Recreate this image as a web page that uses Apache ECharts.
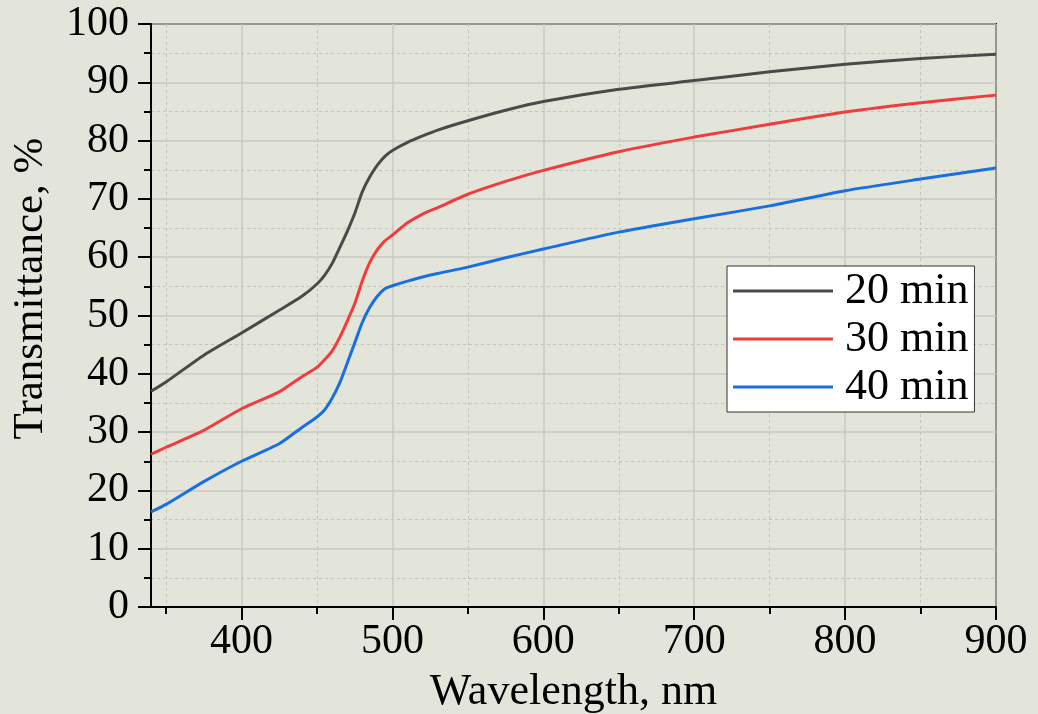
<!DOCTYPE html>
<html>
<head>
<meta charset="utf-8">
<script src="https://cdn.jsdelivr.net/npm/echarts@6/dist/echarts.min.js"></script>
<style>
  html, body { margin: 0; padding: 0; background: #e4e5da; }
  #chart { width: 1038px; height: 714px; }
</style>
</head>
<body>
<div id="chart"></div>
<script>
const wavelength = [340, 350, 375, 400, 425, 440, 450, 455, 460, 465, 470, 475, 480, 485, 490, 495, 500, 510, 520, 530, 550, 575, 600, 650, 700, 750, 800, 850, 900];
const t20 = [37.0, 38.6, 43.2, 47.0, 50.9, 53.3, 55.4, 56.9, 58.9, 61.6, 64.4, 67.5, 71.2, 73.8, 75.8, 77.3, 78.3, 79.7, 80.8, 81.8, 83.4, 85.2, 86.7, 88.8, 90.3, 91.8, 93.1, 94.1, 94.8];
const t30 = [26.2, 27.4, 30.3, 34.0, 36.9, 39.5, 41.1, 42.4, 43.9, 46.2, 49.0, 52.0, 55.9, 59.1, 61.3, 62.8, 63.8, 65.9, 67.4, 68.5, 70.8, 73.0, 74.9, 78.1, 80.6, 82.8, 84.9, 86.5, 87.8];
const t40 = [16.3, 17.6, 21.5, 25.0, 28.0, 30.8, 32.6, 33.8, 35.8, 38.4, 41.8, 45.3, 48.8, 51.4, 53.3, 54.6, 55.1, 55.9, 56.6, 57.2, 58.3, 59.9, 61.4, 64.3, 66.6, 68.8, 71.4, 73.4, 75.3];

const seriesNames = ['20 min', '30 min', '40 min'];
const seriesColors = ['#4a4a4a', '#f03c3c', '#1a6fe0'];

const xMajorTicks = [400, 500, 600, 700, 800, 900];
const xMinorTicks = [350, 450, 550, 650, 750, 850];

const font = 'Liberation Serif';

const chart = echarts.init(document.getElementById('chart'));

const pairs = (ys) => wavelength.map((w, i) => [w, ys[i]]);

const option = {
  backgroundColor: '#e4e5da',
  animation: false,
  grid: {
    left: 151,
    right: 42,
    top: 24,
    bottom: 107,
    outerBoundsMode: 'none',
    containLabel: false,
    show: true,
    borderColor: '#000',
    borderWidth: 2,
    backgroundColor: 'transparent',
  },
  legend: {
    orient: 'vertical',
    left: 727,
    top: 266,
    backgroundColor: '#fff',
    borderColor: '#333',
    borderWidth: 1,
    borderRadius: 0,
    padding: [3, 6, 3, 6],
    icon: 'rect',
    itemWidth: 100,
    itemHeight: 3,
    itemGap: 4,
    textStyle: { fontFamily: font, fontSize: 44, lineHeight: 44, color: '#000', padding: [0, 0, 0, 7] },
    data: seriesNames,
  },
  xAxis: [
    {
      type: 'value',
      min: 340,
      max: 900,
      name: 'Wavelength, nm',
      nameLocation: 'middle',
      nameGap: 63,
      nameTextStyle: { fontFamily: font, fontSize: 44, color: '#000' },
      axisLine: { lineStyle: { color: '#000', width: 2 } },
      axisTick: { show: true, length: 13, lineStyle: { color: '#000', width: 2 }, customValues: xMajorTicks },
      axisLabel: { fontFamily: font, fontSize: 42, color: '#000', margin: 14, customValues: xMajorTicks },
      splitLine: { show: true, lineStyle: { color: '#c9c9c4', width: 1.5 } },
    },
    {
      type: 'value',
      min: 340,
      max: 900,
      position: 'bottom',
      axisLine: { show: false },
      axisTick: { show: true, length: 7, lineStyle: { color: '#000', width: 2 }, customValues: xMinorTicks },
      axisLabel: { show: false },
      splitLine: { show: true, lineStyle: { color: '#c3c3be', width: 1, type: [3, 3] } },
    },
  ],
  yAxis: {
    type: 'value',
    min: 0,
    max: 100,
    interval: 10,
    name: 'Transmittance, %',
    nameLocation: 'middle',
    nameGap: 99,
    nameTextStyle: { fontFamily: font, fontSize: 43, color: '#000', padding: [0, 0, 0, 54] },
    axisLine: { show: true, lineStyle: { color: '#000', width: 2 } },
    axisTick: { show: true, length: 13, lineStyle: { color: '#000', width: 2 } },
    minorTick: { show: true, splitNumber: 2, length: 7, lineStyle: { color: '#000', width: 2 } },
    axisLabel: { fontFamily: font, fontSize: 42, color: '#000', margin: 22 },
    splitLine: { show: true, lineStyle: { color: '#c9c9c4', width: 1.5 } },
    minorSplitLine: { show: true, lineStyle: { color: '#c3c3be', width: 1, type: [3, 3] } },
  },
  series: [t20, t30, t40].map((ys, i) => ({
    name: seriesNames[i],
    type: 'line',
    data: pairs(ys),
    showSymbol: false,
    symbol: 'none',
    smooth: 0.2,
    lineStyle: { color: seriesColors[i], width: 3 },
    itemStyle: { color: seriesColors[i] },
  })),
};

chart.setOption(option);

window.addEventListener('resize', () => {
  chart.resize();
});
</script>
</body>
</html>
